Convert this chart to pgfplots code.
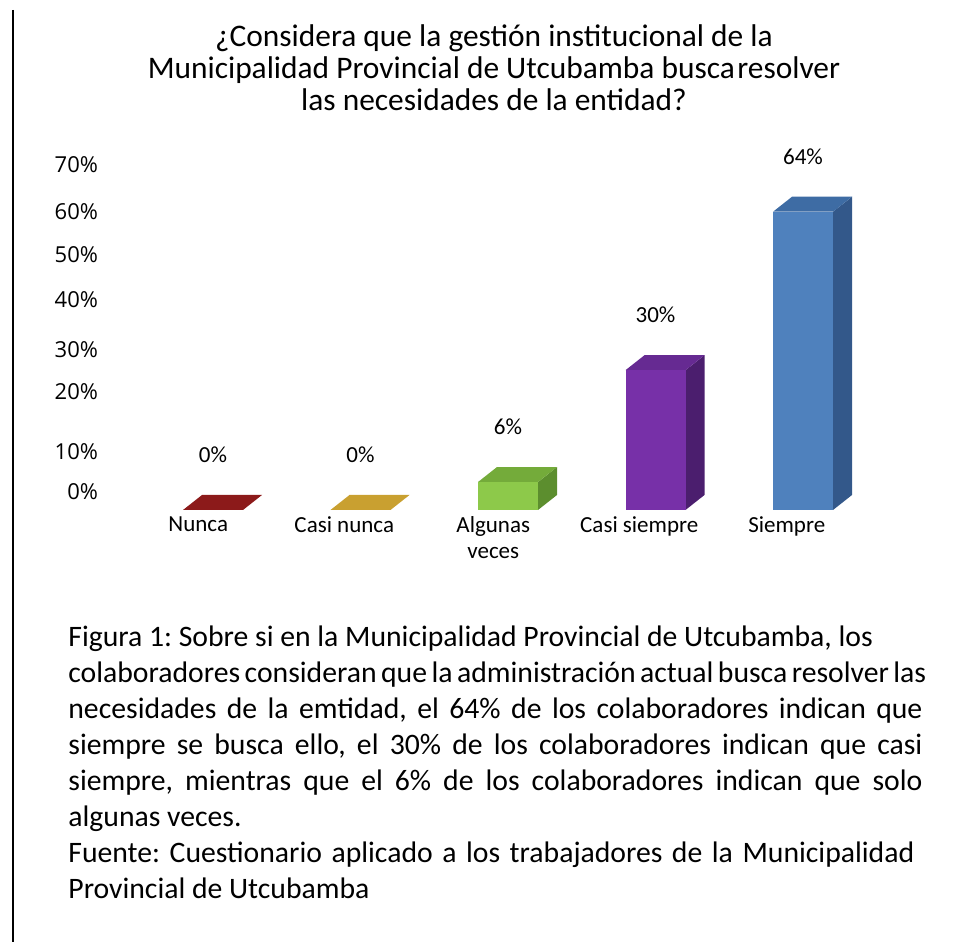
\documentclass[border=0pt]{standalone}
\usepackage{pgfplots}
\pgfplotsset{compat=1.18}
\usepackage{fontspec}
\setmainfont{Carlito}
\newfontfamily\osans{Open Sans}
\frenchspacing
\definecolor{rojo}{HTML}{8C1A1A}
\definecolor{oro}{HTML}{C9A030}
\definecolor{verdeF}{HTML}{8DC94A}
\definecolor{verdeT}{HTML}{74AB3A}
\definecolor{verdeS}{HTML}{5C8E2E}
\definecolor{moradoF}{HTML}{7730A8}
\definecolor{moradoT}{HTML}{662A92}
\definecolor{moradoS}{HTML}{4B1E6E}
\definecolor{azulF}{HTML}{4F81BD}
\definecolor{azulT}{HTML}{3E6CA4}
\definecolor{azulS}{HTML}{33588A}
\begin{document}
\frenchspacing
\begin{tikzpicture}[x=0.5pt,y=0.5pt]
\path[use as bounding box] (0,0) rectangle (959,942);
\draw[line width=1pt] (13,932) -- (13,0);
% title
\begin{scope}[every node/.style={anchor=base,inner sep=0pt,font=\fontsize{15.7}{18}\selectfont}]
\node at (494,942-47) {¿Considera que la gestión institucional de la};
\node at (494,942-79) {Municipalidad Provincial de Utcubamba busca\hspace{0.08em}resolver};
\node at (494,942-111) {las necesidades de la entidad?};
\end{scope}
\begin{axis}[
  at={(51.1875pt,216pt)}, anchor=south west,
  x=73.75pt, y=2.33pt,
  xmin=-0.75, xmax=4.5, ymin=0, ymax=72,
  clip=false,
  axis line style={draw=none},
  major tick length=0pt,
  xtick={-0.10,0.89,1.90,2.89,3.89},
  xticklabels={Nunca, Casi nunca, {Algunas\\veces}, Casi siempre, Siempre},
  xticklabel style={anchor=north, inner sep=0pt, yshift=-3pt, align=center,
    font=\fontsize{11.5}{13}\selectfont},
  ytick={0,8.6,21.5,30.5,41.2,50.9,60.1,70.2},
  yticklabels={0\%,10\%,20\%,30\%,40\%,50\%,60\%,70\%},
  yticklabel style={anchor=east, inner sep=0pt, xshift=-2pt, yshift=9pt,
    font=\osans\fontsize{11}{13}\selectfont},
  nodes near coords style={anchor=center, yshift=27.5pt,
    font=\fontsize{11.5}{13}\selectfont},
  /pgf/number format/assume math mode=true,
]
% side faces
\addplot[fill=verdeS, draw=none] coordinates {(2.2034,0) (2.3322,3.22) (2.3322,9.22) (2.2034,6)} -- cycle;
\addplot[fill=moradoS, draw=none] coordinates {(3.2034,0) (3.3322,3.22) (3.3322,33.22) (3.2034,30)} -- cycle;
\addplot[fill=azulS, draw=none] coordinates {(4.2034,0) (4.3322,3.22) (4.3322,67.22) (4.2034,64)} -- cycle;
% top faces
\addplot[fill=rojo, draw=none] coordinates {(-0.2034,0) (0.2034,0) (0.3322,3.22) (-0.0746,3.22)} -- cycle;
\addplot[fill=oro, draw=none] coordinates {(0.7966,0) (1.2034,0) (1.3322,3.22) (0.9254,3.22)} -- cycle;
\addplot[fill=verdeT, draw=none] coordinates {(1.7966,6) (2.2034,6) (2.3322,9.22) (1.9254,9.22)} -- cycle;
\addplot[fill=moradoT, draw=none] coordinates {(2.7966,30) (3.2034,30) (3.3322,33.22) (2.9254,33.22)} -- cycle;
\addplot[fill=azulT, draw=none] coordinates {(3.7966,64) (4.2034,64) (4.3322,67.22) (3.9254,67.22)} -- cycle;
% front faces (data)
\addplot[ybar, bar width=30pt, bar shift=0pt, fill=rojo, draw=none, nodes near coords={\pgfmathprintnumber{\pgfplotspointmeta}\%}] coordinates {(0,0)};
\addplot[ybar, bar width=30pt, bar shift=0pt, fill=oro, draw=none, nodes near coords={\pgfmathprintnumber{\pgfplotspointmeta}\%}] coordinates {(1,0)};
\addplot[ybar, bar width=30pt, bar shift=0pt, fill=verdeF, draw=none, nodes near coords={\pgfmathprintnumber{\pgfplotspointmeta}\%}] coordinates {(2,6)};
\addplot[ybar, bar width=30pt, bar shift=0pt, fill=moradoF, draw=none, nodes near coords={\pgfmathprintnumber{\pgfplotspointmeta}\%}] coordinates {(3,30)};
\addplot[ybar, bar width=30pt, bar shift=0pt, fill=azulF, draw=none, nodes near coords={\pgfmathprintnumber{\pgfplotspointmeta}\%}] coordinates {(4,64)};
\end{axis}
% caption
\begin{scope}[every node/.style={anchor=base west,inner sep=0pt,font=\fontsize{14.85}{18}\selectfont}]
\node at (68,942-647) {Figura 1: Sobre si en la Municipalidad Provincial de Utcubamba, los};
\node at (68,942-683) {\makebox[427pt][s]{colaboradores consideran que la administración actual busca resolver las}};
\node at (68,942-719) {\makebox[427pt][s]{necesidades de la emtidad, el 64\% de los colaboradores indican que}};
\node at (68,942-755) {\makebox[427pt][s]{siempre se busca ello, el 30\% de los colaboradores indican que casi}};
\node at (68,942-791) {\makebox[427pt][s]{siempre, mientras que el 6\% de los colaboradores indican que solo}};
\node at (68,942-827) {algunas veces.};
\node at (68,942-863) {\makebox[423pt][s]{Fuente: Cuestionario aplicado a los trabajadores de la Municipalidad}};
\node at (68,942-899) {Provincial de Utcubamba};
\end{scope}
\end{tikzpicture}
\end{document}
